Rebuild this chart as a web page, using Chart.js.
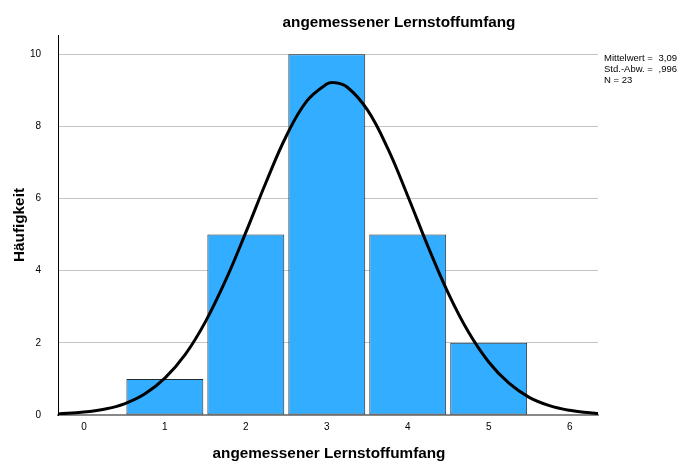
<!DOCTYPE html>
<html>
<head>
<meta charset="utf-8">
<script src="https://cdn.jsdelivr.net/npm/chart.js@4/dist/chart.umd.min.js"></script>
<style>
html,body{margin:0;padding:0;background:#fff;}
#wrap{width:684px;height:464px;position:relative;}
</style>
</head>
<body>
<div id="wrap"><canvas id="c" width="684" height="464"></canvas></div>
<script>
// ---- data ----
const categories = [1, 2, 3, 4, 5];
const frequencies = [1, 5, 10, 5, 2];
const xTickLabels = [0, 1, 2, 3, 4, 5, 6];
const yTickLabels = [0, 2, 4, 6, 8, 10];
// normal curve
const curveX = [-0.32, 0, 0.25, 0.5, 0.75, 1, 1.25, 1.5, 1.75, 2, 2.25, 2.5, 2.75, 3, 3.09, 3.25, 3.5, 3.75, 4, 4.25, 4.5, 4.75, 5, 5.25, 5.5, 5.75, 6, 6.25, 6.35];
const curveY = [0.03, 0.08, 0.16, 0.31, 0.58, 1.02, 1.67, 2.58, 3.73, 5.06, 6.45, 7.73, 8.69, 9.17, 9.21, 9.09, 8.46, 7.40, 6.07, 4.67, 3.38, 2.30, 1.47, 0.88, 0.49, 0.26, 0.13, 0.06, 0.04];
const chartTitle = "angemessener Lernstoffumfang";
const xTitle = "angemessener Lernstoffumfang";
const yTitle = "Häufigkeit";
const statsLabels = ["Mittelwert =", "Std.-Abw. =", "N = 23"];
const statsValues = ["3,09", ",996", ""];

const FONT = "'Liberation Sans', Arial, sans-serif";

const textPlugin = {
  id: 'texts',
  afterDraw(chart) {
    const ctx = chart.ctx;
    const a = chart.chartArea;
    ctx.save();
    ctx.fillStyle = '#000';
    ctx.textBaseline = 'alphabetic';
    ctx.textAlign = 'center';
    ctx.font = "bold 15.3px " + FONT;
    ctx.fillText(chartTitle, 399, 27);
    ctx.fillText(xTitle, 329, 458);
    ctx.save();
    ctx.translate(24, (a.top + a.bottom) / 2);
    ctx.rotate(-Math.PI / 2);
    ctx.fillText(yTitle, 0, 0);
    ctx.restore();
    ctx.font = "9.5px " + FONT;
    ctx.textBaseline = 'middle';
    statsLabels.forEach((l, i) => {
      ctx.textAlign = 'left';
      ctx.fillText(l, 604, 58 + i * 11);
      if (statsValues[i]) {
        ctx.textAlign = 'right';
        ctx.fillText(statsValues[i], 677, 58 + i * 11);
      }
    });
    ctx.restore();
  }
};

new Chart(document.getElementById('c'), {
  type: 'bar',
  data: {
    datasets: [
      {
        type: 'line',
        data: curveX.map((x, i) => ({x: x, y: curveY[i]})),
        borderColor: '#000',
        borderWidth: 3,
        pointRadius: 0,
        tension: 0.4,
        fill: false,
        order: 0
      },
      {
        type: 'bar',
        data: categories.map((c, i) => ({x: c, y: frequencies[i]})),
        backgroundColor: '#33adff',
        borderColor: '#1f2b33',
        borderWidth: 1,
        borderSkipped: false,
        categoryPercentage: 1.0,
        barPercentage: 0.95,
        order: 1
      }
    ]
  },
  options: {
    responsive: false,
    animation: false,
    events: [],
    layout: {padding: {left: 0, top: 35, right: 86, bottom: 0}},
    plugins: {legend: {display: false}, tooltip: {enabled: false}, title: {display: false}},
    scales: {
      x: {
        type: 'linear',
        offset: false,
        min: -0.32,
        max: 6.35,
        afterBuildTicks: s => { s.ticks = xTickLabels.map(v => ({value: v})); },
        afterFit: s => { s.height = 49; },
        grid: {display: false, drawTicks: false, offset: false},
        border: {color: '#888', width: 2},
        ticks: {color: '#000', font: {family: FONT, size: 10}, padding: 6, autoSkip: false, maxRotation: 0}
      },
      y: {
        min: 0,
        max: 10.53,
        afterBuildTicks: s => { s.ticks = yTickLabels.map(v => ({value: v})); },
        afterFit: s => { s.width = 58; },
        grid: {color: '#c4c4c4', drawTicks: false, lineWidth: 1},
        border: {color: '#000', width: 1},
        ticks: {color: '#000', font: {family: FONT, size: 10}, padding: 17}
      }
    }
  },
  plugins: [textPlugin]
});
</script>
</body>
</html>
